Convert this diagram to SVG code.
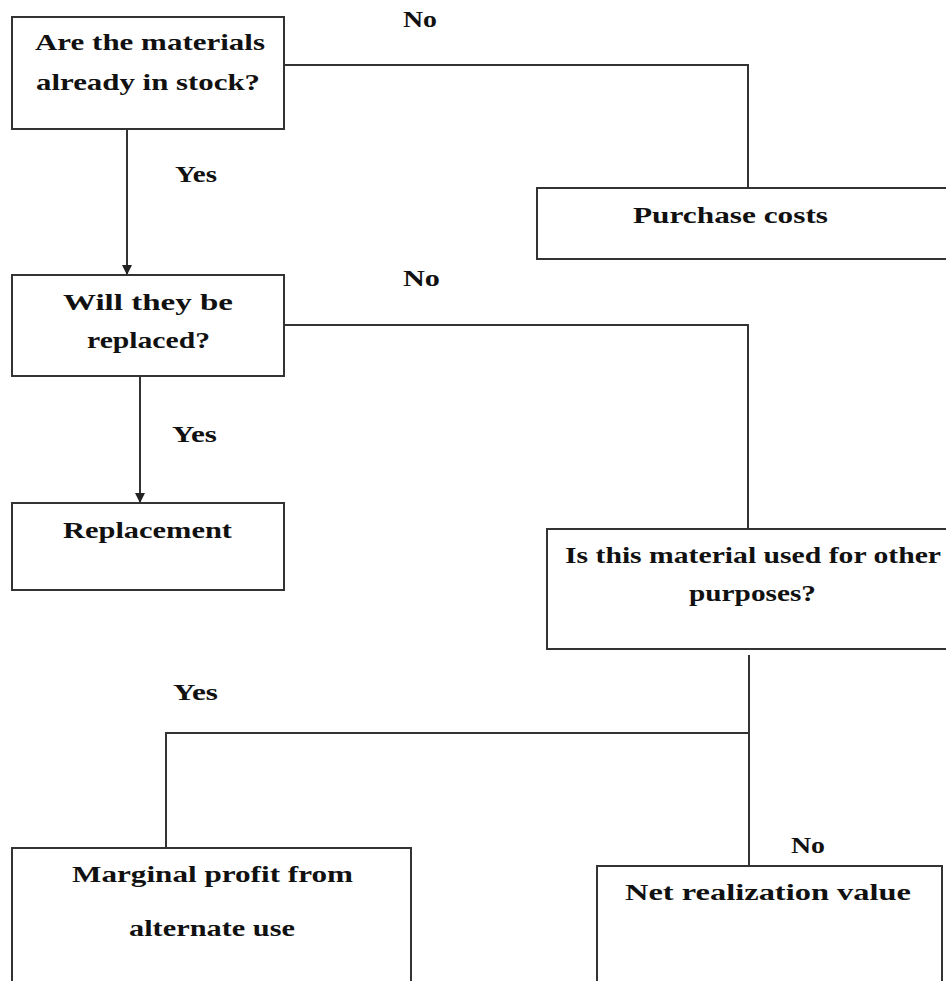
<svg xmlns="http://www.w3.org/2000/svg" width="946" height="981" viewBox="0 0 946 981">
<style>
.box{fill:#fff;stroke:#333;stroke-width:2}
.ln{fill:none;stroke:#333;stroke-width:2}
text{font-family:"Liberation Serif","DejaVu Serif",serif;font-weight:bold;font-size:23px;fill:#111}
</style>
<defs>
<marker id="arr" markerWidth="10" markerHeight="10" refX="9" refY="5" orient="auto" markerUnits="userSpaceOnUse">
<path d="M0,0 L10,5 L0,10 z" fill="#222"/>
</marker>
</defs>
<rect width="946" height="981" fill="#fff"/>
<g id="connectors">
<path class="ln" d="M284,65 H748 V188"/>
<path class="ln" d="M127,129 V274" marker-end="url(#arr)"/>
<path class="ln" d="M284,325 H748 V529"/>
<path class="ln" d="M140,376 V502" marker-end="url(#arr)"/>
<path class="ln" d="M749,655 V866"/>
<path class="ln" d="M749,733 H166 V848"/>
</g>
<g id="labels">
<text x="403" y="27" textLength="34" lengthAdjust="spacingAndGlyphs">No</text>
<text x="175" y="182" textLength="42" lengthAdjust="spacingAndGlyphs">Yes</text>
<text x="403" y="286" textLength="37" lengthAdjust="spacingAndGlyphs">No</text>
<text x="172" y="442" textLength="45" lengthAdjust="spacingAndGlyphs">Yes</text>
<text x="173" y="700" textLength="45" lengthAdjust="spacingAndGlyphs">Yes</text>
<text x="791" y="853" textLength="34" lengthAdjust="spacingAndGlyphs">No</text>
</g>
<g id="n1">
<rect class="box" x="12" y="17" width="272" height="112"/>
<text x="35" y="50" textLength="230" lengthAdjust="spacingAndGlyphs">Are the materials</text>
<text x="36" y="90" textLength="224" lengthAdjust="spacingAndGlyphs">already in stock?</text>
</g>
<g id="n2">
<rect class="box" x="537" y="188" width="420" height="71"/>
<text x="633" y="223" textLength="195" lengthAdjust="spacingAndGlyphs">Purchase costs</text>
</g>
<g id="n3">
<rect class="box" x="12" y="275" width="272" height="101"/>
<text x="63" y="310" textLength="170" lengthAdjust="spacingAndGlyphs">Will they be</text>
<text x="87" y="348" textLength="123" lengthAdjust="spacingAndGlyphs">replaced?</text>
</g>
<g id="n4">
<rect class="box" x="12" y="503" width="272" height="87"/>
<text x="63" y="538" textLength="169" lengthAdjust="spacingAndGlyphs">Replacement</text>
</g>
<g id="n5">
<rect class="box" x="547" y="529" width="410" height="120"/>
<text x="565" y="563" textLength="376" lengthAdjust="spacingAndGlyphs">Is this material used for other</text>
<text x="689" y="601" textLength="127" lengthAdjust="spacingAndGlyphs">purposes?</text>
</g>
<g id="n6">
<rect class="box" x="12" y="848" width="399" height="150"/>
<text x="72" y="882" textLength="281" lengthAdjust="spacingAndGlyphs">Marginal profit from</text>
<text x="129" y="936" textLength="166" lengthAdjust="spacingAndGlyphs">alternate use</text>
</g>
<g id="n7">
<rect class="box" x="597" y="866" width="345" height="130"/>
<text x="625" y="900" textLength="286" lengthAdjust="spacingAndGlyphs">Net realization value</text>
</g>
</svg>
